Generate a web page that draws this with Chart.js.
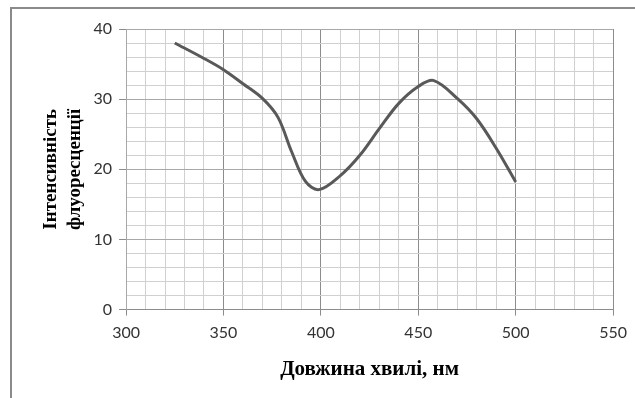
<!DOCTYPE html>
<html>
<head>
<meta charset="utf-8">
<script src="https://cdn.jsdelivr.net/npm/chart.js@4.4.0/dist/chart.umd.min.js"></script>
<style>
  body { margin: 0; background: #fff; overflow: hidden; }
  #frame { position: absolute; left: 10px; top: 7px; width: 700px; height: 500px; border: 2px solid #8a8a8a; }
  #myChart { position: absolute; left: 0; top: 0; }
</style>
</head>
<body>
<div id="frame"></div>
<canvas id="myChart" width="635" height="398"></canvas>
<script>
// values
const wavelengths = [325, 340, 350, 360, 370, 378, 385, 392, 399, 410, 420, 430, 440, 450, 458, 470, 480, 490, 500];
const intensity = [38, 35.8, 34.2, 32.2, 30.1, 27.4, 22.5, 18.3, 17.1, 19.1, 22, 25.8, 29.4, 31.8, 32.65, 30.1, 27.2, 23, 18.2];
const xTickLabels = [300, 350, 400, 450, 500, 550];
const yTickLabels = [0, 10, 20, 30, 40];

const points = wavelengths.map((w, i) => ({ x: w, y: intensity[i] }));

var ctx = document.getElementById("myChart").getContext("2d");
var myChart = new Chart(ctx, {
  type: "line",
  data: {
    datasets: [{
      data: points,
      borderColor: "#595959",
      borderWidth: 3,
      pointRadius: 0,
      fill: false,
      tension: 0.35,
    }]
  },
  options: {
    responsive: false,
    animation: false,
    layout: { padding: { left: 39, right: 16, top: 29, bottom: 16 } },
    plugins: { legend: { display: false }, tooltip: { enabled: false } },
    scales: {
      x: {
        type: "linear",
        min: 300,
        max: 550,
        border: { color: "#8c8c8c" },
        grid: {
          color: c => xTickLabels.includes(c.tick.value) ? "#8c8c8c" : "#d0d0d0",
          tickColor: c => xTickLabels.includes(c.tick.value) ? "#8c8c8c" : "rgba(0,0,0,0)",
          tickLength: 6,
        },
        ticks: {
          stepSize: 10,
          autoSkip: false,
          maxRotation: 0,
          padding: 8,
          color: "#333",
          font: { family: "Lato", size: 16 },
          callback: v => xTickLabels.includes(v) ? String(v) : "",
        },
        title: {
          display: true,
          text: "Довжина хвилі, нм",
          color: "#000",
          font: { family: "Liberation Serif", size: 21, weight: "bold" },
          padding: { top: 6, bottom: 0 },
        },
      },
      y: {
        min: 0,
        max: 40,
        border: { color: "#a8a8a8" },
        grid: {
          color: c => yTickLabels.includes(c.tick.value) ? "#a8a8a8" : "#d0d0d0",
          tickColor: c => yTickLabels.includes(c.tick.value) ? "#8c8c8c" : "rgba(0,0,0,0)",
          tickLength: 7,
        },
        ticks: {
          stepSize: 2,
          autoSkip: false,
          padding: 7,
          color: "#333",
          font: { family: "Lato", size: 16 },
          callback: v => yTickLabels.includes(v) ? String(v) : "",
        },
        title: {
          display: true,
          text: ["Інтенсивність", "флуоресценції"],
          color: "#000",
          font: { family: "Liberation Serif", size: 19, weight: "bold", lineHeight: 1.25 },
          padding: { top: 0, bottom: 0 },
        },
      },
    },
  },
});
</script>
</body>
</html>
